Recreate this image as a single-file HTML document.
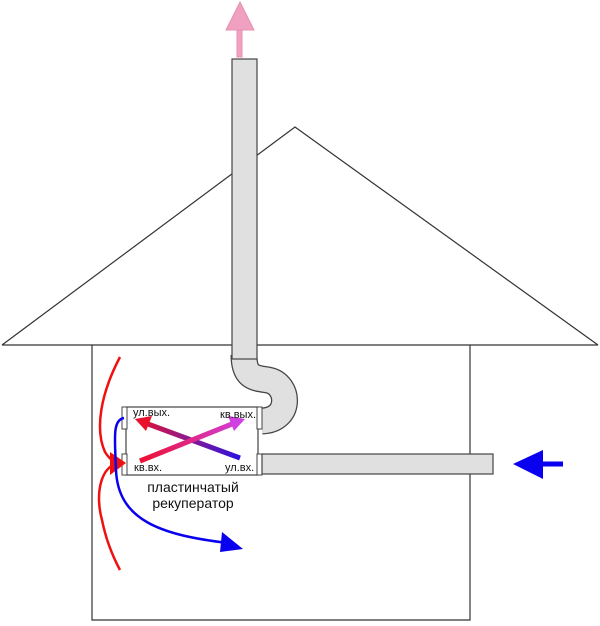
<!DOCTYPE html>
<html><head><meta charset="utf-8"><style>body{margin:0;background:#fff}svg{display:block}</style></head><body>
<svg width="600" height="626" viewBox="0 0 600 626" xmlns="http://www.w3.org/2000/svg">
<defs>
<linearGradient id="g1" x1="240" y1="458" x2="137" y2="420" gradientUnits="userSpaceOnUse"><stop offset="0" stop-color="#2a10e0"/><stop offset="0.5" stop-color="#8a1a90"/><stop offset="1" stop-color="#e8102a"/></linearGradient>
<linearGradient id="g2" x1="140" y1="461" x2="242" y2="420" gradientUnits="userSpaceOnUse"><stop offset="0" stop-color="#ee1030"/><stop offset="1" stop-color="#d040e0"/></linearGradient>
</defs>
<g fill="none" stroke="#333" stroke-width="1.2">
<polyline points="2,345 295,127 598,345"/>
<line x1="2" y1="345" x2="598" y2="345"/>
<polyline points="92,345 92,620 470,620 470,345"/>
</g>
<!-- bend -->
<path d="M244,355 C244,378 255,378 268,380 C290,384 292,420 262,421" fill="none" stroke="#444" stroke-width="27"/>
<path d="M244,355 C244,378 255,378 268,380 C290,384 292,420 262,421" fill="none" stroke="#e0e0e0" stroke-width="24.5"/>
<!-- chimney -->
<rect x="232" y="59" width="25" height="300" fill="#e0e0e0" stroke="#444" stroke-width="1.2"/>
<!-- box -->
<rect x="126" y="407" width="132" height="68" fill="#fff" stroke="#444" stroke-width="1.2"/>
<rect x="122" y="407" width="5" height="22" fill="#fff" stroke="#444" stroke-width="1"/>
<rect x="122" y="454" width="5" height="21" fill="#fff" stroke="#444" stroke-width="1"/>
<rect x="257" y="407" width="5" height="22" fill="#fff" stroke="#444" stroke-width="1"/>
<rect x="257" y="454" width="5" height="21" fill="#fff" stroke="#444" stroke-width="1"/>
<rect x="262" y="454" width="231" height="20" fill="#e0e0e0" stroke="#444" stroke-width="1.2"/>
<!-- inner arrows -->
<line x1="240" y1="458" x2="148" y2="424" stroke="url(#g1)" stroke-width="5"/>
<polygon points="135,419 152,416 146,431" fill="#e8102a"/>
<line x1="140" y1="461" x2="232" y2="424" stroke="url(#g2)" stroke-width="5"/>
<polygon points="245,419 228,416 234,431" fill="#d040e0"/>
<g font-family="Liberation Sans, sans-serif" font-size="11" fill="#111">
<text x="133" y="416">ул.вых.</text>
<text x="220" y="418">кв.вых.</text>
<text x="134" y="471">кв.вх.</text>
<text x="225" y="471">ул.вх.</text>
</g>
<g font-family="Liberation Sans, sans-serif" font-size="14" fill="#111" text-anchor="middle">
<text x="193" y="492">пластинчатый</text>
<text x="193" y="508">рекуператор</text>
</g>
<!-- pink arrow -->
<rect x="237" y="29" width="5" height="28" fill="#f0a0c0" stroke="#e890b0"/>
<polygon points="240,2 254,30 226,30" fill="#f0a0c0" stroke="#e890b0"/>
<!-- blue arrow right -->
<line x1="540" y1="464" x2="563" y2="464" stroke="#0a00f0" stroke-width="5"/>
<polygon points="513,464 543,450 543,479" fill="#0a00f0"/>
<!-- red curves -->
<path d="M120,357 C100,395 95,430 105,452 C110,460 115,463 120,463" fill="none" stroke="#f01010" stroke-width="2.5"/>
<path d="M120,463 C100,465 95,495 102,520 C106,540 112,555 120,570" fill="none" stroke="#f01010" stroke-width="2.5"/>
<polygon points="126,463 110,452 110,475" fill="#f01010"/>
<!-- blue curve -->
<path d="M124,418 C112,420 115,440 116,470 C118,520 160,535 228,543" fill="none" stroke="#0a00f0" stroke-width="2.5"/>
<polygon points="243,549 222,532 220,552" fill="#0a00f0"/>
</svg>
</body></html>
